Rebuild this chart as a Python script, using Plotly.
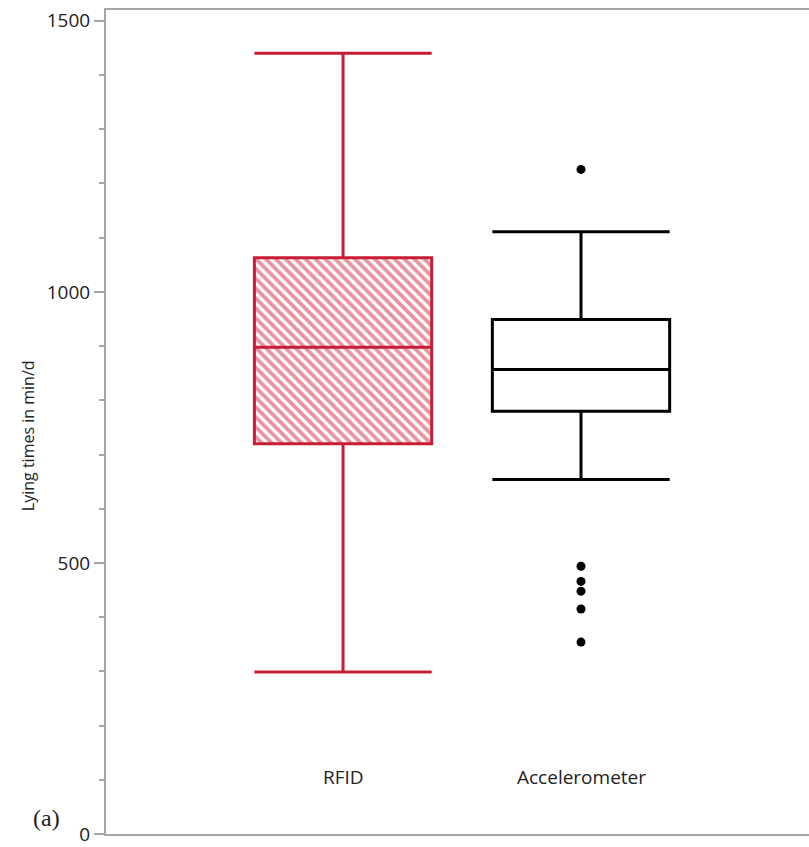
import plotly.graph_objects as go

categories = ["RFID", "Accelerometer"]
q1 = [720, 780]
median = [898, 857]
q3 = [1063, 949]
lower_whisker = [299, 654]
upper_whisker = [1440, 1111]
accel_outliers = [1226, 494, 466, 448, 415, 354]

RED = "#c81e35"
HATCH = "#cf2a40"
BLACK = "#000000"
AXIS = "#a6a6a6"
BOX_W = 0.745

xpos = [0, 1]

fig = go.Figure()

# hatched fill for RFID box
fig.add_trace(go.Bar(
    x=[xpos[0]], y=[q3[0] - q1[0]], base=[q1[0]], width=BOX_W,
    marker=dict(color="white", line=dict(width=0),
                pattern=dict(shape="\\", fgcolor=HATCH, bgcolor="white", size=7, solidity=0.55)),
    showlegend=False, hoverinfo="skip"))

colors = [RED, BLACK]
for i in range(2):
    fig.add_trace(go.Box(
        x=[xpos[i]], q1=[q1[i]], median=[median[i]], q3=[q3[i]],
        lowerfence=[lower_whisker[i]], upperfence=[upper_whisker[i]],
        width=BOX_W, whiskerwidth=1, boxpoints=False,
        line=dict(color=colors[i], width=3), fillcolor="rgba(0,0,0,0)",
        name=categories[i], showlegend=False))

fig.add_trace(go.Scatter(
    x=[xpos[1]] * len(accel_outliers), y=accel_outliers, mode="markers",
    marker=dict(color=BLACK, size=9), showlegend=False))

for i, c in enumerate(categories):
    fig.add_annotation(x=xpos[i], y=105, xref="x", yref="y", text=c, showarrow=False,
                       xanchor="center", yanchor="middle",
                       font=dict(size=19, color="#222222", family="Open Sans"))

fig.add_annotation(x=-0.111, y=0.484, xref="paper", yref="paper", text="Lying times in min/d",
                   textangle=-90, showarrow=False, xanchor="center", yanchor="middle",
                   font=dict(size=16, color="#222222", family="Open Sans"))
fig.add_annotation(x=-0.085, y=0.02, xref="paper", yref="paper", text="(a)", showarrow=False,
                   xanchor="center", yanchor="middle",
                   font=dict(size=24, color="#222222", family="Liberation Serif"))

fig.update_layout(
    width=809, height=847, margin=dict(l=106, r=0, t=10, b=9),
    plot_bgcolor="white", paper_bgcolor="white", bargap=0,
    xaxis=dict(range=[-0.996, 1.958], showticklabels=False, ticks="", showgrid=False,
               zeroline=False, showline=True, mirror=True, linecolor=AXIS, linewidth=2),
    yaxis=dict(range=[0, 1520], tickvals=[0, 500, 1000, 1500], ticks="outside", ticklen=10,
               tickcolor=AXIS, tickwidth=2, showgrid=False, zeroline=False, showline=True,
               mirror=False, linecolor=AXIS, linewidth=2, ticklabeloverflow="allow",
               tickfont=dict(size=19, color="#222222", family="Open Sans"),
               minor=dict(dtick=100, tick0=0, ticks="outside", ticklen=5, tickcolor=AXIS, tickwidth=1.5)),
)

fig.write_html(
    "out.html",
    config={"displayModeBar": False},
    post_script=("document.body.style.margin='0';"
                 "document.body.style.overflow='hidden';"
                 "document.documentElement.style.overflow='hidden';"),
)
